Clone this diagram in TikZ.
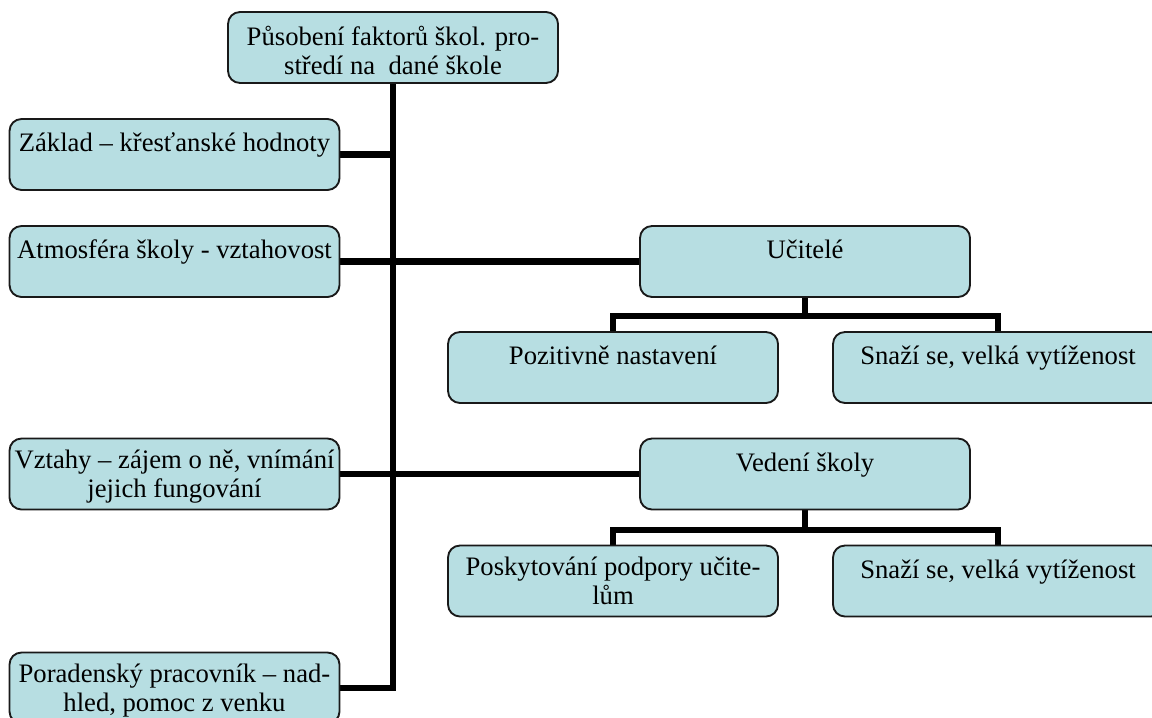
\documentclass[tikz,border=0pt]{standalone}
\usepackage{fontspec}
\setmainfont{Liberation Serif}
\usetikzlibrary{calc}
\pgfdeclarelayer{background}
\pgfsetlayers{background,main}
\definecolor{boxfill}{RGB}{183,222,226}
\definecolor{boxline}{RGB}{25,25,25}
% text of a box: centred lines hanging from the top edge (optional gap above)
\newcommand{\boxtext}[2][9.5pt]{\parbox[c][53.25pt][t]{244pt}{\fontsize{20}{21.75}\selectfont\vspace*{#1}\centering\strut #2\strut}}
\tikzset{
  box/.style={draw=boxline, fill=boxfill, line width=1.4pt, rounded corners=9pt,
    inner sep=0pt, minimum width=247.5pt, minimum height=53.25pt},
  trunkline/.style={line width=5.2pt},
  subline/.style={line width=4.2pt},
}
\begin{document}
\begin{tikzpicture}[x=0.75pt, y=-0.75pt]
\useasboundingbox (0,0) rectangle (1152,717);
\clip (0,0) rectangle (1152,717);

% boxes
\node[box] (top)    at (393,47.5)   {\boxtext[10pt]{Působení faktorů škol. pro-\\středí na\ \ dané škole}};
\node[box] (base)   at (174.5,154.5) {\boxtext{Základ – křesťanské hodnoty}};
\node[box] (atmo)   at (174.5,261.5) {\boxtext{Atmosféra školy - vztahovost}};
\node[box] (vztahy) at (174.5,474)   {\boxtext[7.5pt]{Vztahy – zájem o ně, vnímání\\jejich fungování}};
\node[box] (porad)  at (174.5,688)   {\boxtext[7pt]{Poradenský pracovník – nad-\\hled, pomoc z venku}};
\node[box] (ucit)   at (805,261.5)   {\boxtext{Učitelé}};
\node[box] (poz)    at (613,367.5)   {\boxtext{Pozitivně nastavení}};
\node[box] (snaziA) at (998,367.5)   {\boxtext{Snaží se, velká vytíženost}};
\node[box] (vedeni) at (805,474)     {\boxtext{Vedení školy}};
\node[box] (posk)   at (613,581)     {\boxtext[7.5pt]{Poskytování podpory učite-\\lům}};
\node[box] (snaziB) at (998,581)     {\boxtext{Snaží se, velká vytíženost}};

% connectors, drawn beneath the boxes
\begin{pgfonlayer}{background}
  \draw[trunkline] (top.south) |- (porad.east);
  \draw[trunkline] (base.east) -- (base.east -| top.south);
  \draw[trunkline] (atmo.east) -- (ucit.west);
  \draw[trunkline] (vztahy.east) -- (vedeni.west);
  \draw[subline] (ucit.south) -- ++(0,18) -| (poz.north);
  \draw[subline] (ucit.south) -- ++(0,18) -| (snaziA.north);
  \draw[subline] (vedeni.south) -- ++(0,19.5) -| (posk.north);
  \draw[subline] (vedeni.south) -- ++(0,19.5) -| (snaziB.north);
\end{pgfonlayer}
\end{tikzpicture}
\end{document}
